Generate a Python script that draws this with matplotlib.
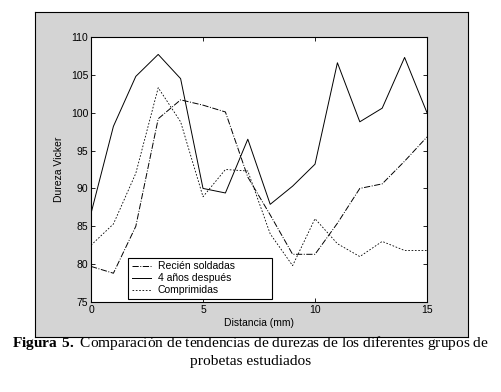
import matplotlib
matplotlib.use("Agg")
import matplotlib.pyplot as plt

# Datos (dureza Vickers vs distancia)
distancia = list(range(16))
recien_soldadas = [79.7, 78.8, 85.0, 99.2, 101.7, 101.0, 100.1, 91.5,
                   86.5, 81.3, 81.3, 85.4, 90.0, 90.6, 93.6, 96.8]
cuatro_anios = [86.7, 98.2, 104.8, 107.7, 104.5, 90.0, 89.4, 96.5,
                87.9, 90.3, 93.2, 106.6, 98.8, 100.6, 107.3, 100.0]
comprimidas = [82.5, 85.3, 92.0, 103.3, 98.8, 88.9, 92.5, 92.3,
               84.0, 79.8, 86.0, 82.7, 81.0, 83.0, 81.8, 81.8]
etiquetas = ["Recién soldadas", "4 años después", "Comprimidas"]
xticks = [0, 5, 10, 15]
yticks = [75, 80, 85, 90, 95, 100, 105, 110]

plt.rcParams['font.family'] = ['Liberation Sans', 'DejaVu Sans']
plt.rcParams['mathtext.fontset'] = 'custom'
plt.rcParams['mathtext.rm'] = 'Liberation Serif'
plt.rcParams['mathtext.bf'] = 'Liberation Serif:bold'

fig = plt.figure(figsize=(5.02, 3.92), dpi=100)
fig.patch.set_facecolor('white')

# Fondo gris tipo MATLAB
fondo = fig.add_axes([0.0697, 0.1403, 0.8626, 0.8291])
fondo.set_facecolor('#d4d4d4')
fondo.set_xticks([])
fondo.set_yticks([])
for s in fondo.spines.values():
    s.set_linewidth(0.8)

ax = fig.add_axes([0.1813, 0.2296, 0.6693, 0.676])
ax.set_facecolor('white')

ax.plot(distancia, recien_soldadas, color='black', linestyle='-.', linewidth=0.7, label=etiquetas[0])
ax.plot(distancia, cuatro_anios, color='black', linestyle='-', linewidth=0.7, label=etiquetas[1])
ax.plot(distancia, comprimidas, color='black', linestyle=(0, (2, 2)), linewidth=0.6, label=etiquetas[2])

ax.set_xlim(0, 15)
ax.set_ylim(75, 110)
ax.set_xticks(xticks)
ax.set_yticks(yticks)
ax.tick_params(direction='in', length=3, width=0.6, labelsize=7.5, top=True, right=True, pad=2)
for s in ax.spines.values():
    s.set_linewidth(0.8)

ax.set_xlabel('Distancia (mm)', fontsize=7.5, labelpad=2)
ax.set_ylabel('Dureza Vicker', fontsize=7.5, labelpad=5)

leg = ax.legend(loc='lower left', bbox_to_anchor=(0.11, 0.011, 0.43, 0.155), mode='expand',
                fontsize=7.5, frameon=True, fancybox=False, edgecolor='black', borderpad=0.35,
                labelspacing=0.2, handlelength=1.9, handletextpad=0.6, borderaxespad=0)
leg.get_frame().set_linewidth(0.8)
leg.get_frame().set_alpha(1)

fig.text(0.5, 0.125, r"$\mathbf{Figura\ 5.}$" + " Comparación de tendencias de durezas de los diferentes grupos de",
         ha='center', va='center', fontsize=11.1, family='Liberation Serif')
fig.text(0.5, 0.077, "probetas estudiados", ha='center', va='center', fontsize=11.1, family='Liberation Serif')

fig.savefig('out.png', dpi=100)
